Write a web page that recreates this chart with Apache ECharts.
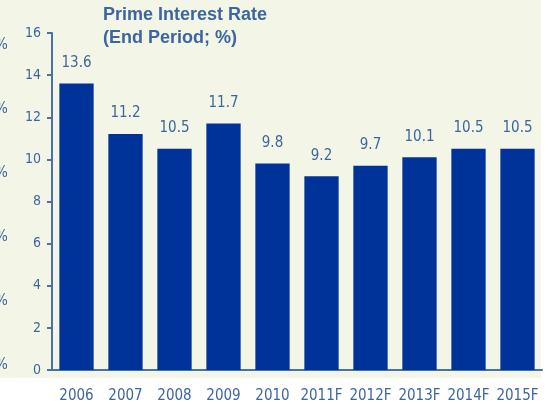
<!DOCTYPE html>
<html>
<head>
<meta charset="utf-8">
<script src="https://cdn.jsdelivr.net/npm/echarts@6/dist/echarts.min.js"></script>
<style>
  html, body { margin: 0; padding: 0; background: #ffffff; }
  #chart { width: 550px; height: 404px; }
</style>
</head>
<body>
<div id="chart"></div>
<script>
// 数据
var years = ['2006', '2007', '2008', '2009', '2010', '2011F', '2012F', '2013F', '2014F', '2015F'];
var primeRate = [13.6, 11.2, 10.5, 11.7, 9.8, 9.2, 9.7, 10.1, 10.5, 10.5];
var yTicks = [0, 16, 2]; // min, max, interval

var blue = '#3d65a0';
var narrow = '"DejaVu Sans Condensed", "Liberation Sans Narrow", "Liberation Sans", Arial, sans-serif';

var chart = echarts.init(document.getElementById('chart'));

// leftover % signs cut from the neighbouring chart
var pctMarks = [45, 109, 173, 237, 301, 365].map(function (y) {
    return {
        type: 'text', left: -5, top: y - 7, z: 1, silent: true,
        style: { text: '%', fill: blue, font: '15px ' + narrow }
    };
});

chart.setOption({
    backgroundColor: '#ffffff',
    animation: false,
    graphic: [
        { type: 'rect', left: 0, top: 0, z: -10, silent: true,
          shape: { width: 541, height: 378 }, style: { fill: '#f3f6e6' } },
        { type: 'text', left: 103, top: 4, z: 5,
          style: { text: 'Prime Interest Rate\n(End Period; %)', fill: blue,
                   font: 'bold 18px "Liberation Sans", Arial, sans-serif', lineHeight: 23 } }
    ].concat(pctMarks),
    grid: { left: 52, right: 8, top: 33, bottom: 34 },
    xAxis: {
        type: 'category',
        data: years,
        axisLine: { lineStyle: { color: '#4a70a8', width: 2 } },
        axisTick: { show: false },
        axisLabel: { color: blue, fontSize: 15, fontFamily: narrow, margin: 19, interval: 0 }
    },
    yAxis: {
        type: 'value',
        min: yTicks[0], max: yTicks[1], interval: yTicks[2],
        axisLine: { show: true, lineStyle: { color: '#4a70a8', width: 2 } },
        axisTick: { show: true, length: 5, lineStyle: { color: '#4a70a8', width: 2 } },
        splitLine: { show: false },
        axisLabel: { color: blue, fontSize: 14, fontFamily: narrow, margin: 11 }
    },
    series: [{
        type: 'bar',
        data: primeRate,
        barCategoryGap: '30%',
        itemStyle: { color: '#003399' },
        label: {
            show: true, position: 'top', distance: 13,
            color: blue, fontSize: 15, fontFamily: narrow
        }
    }]
});
</script>
</body>
</html>
